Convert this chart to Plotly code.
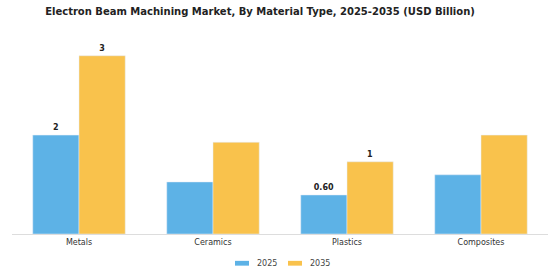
import plotly.graph_objects as go

categories = ["Metals", "Ceramics", "Plastics", "Composites"]
series_names = ["2025", "2035"]
values_2025 = [1.52, 0.80, 0.60, 0.91]
values_2035 = [2.74, 1.41, 1.11, 1.52]
labels_2025 = ["2", "", "0.60", ""]
labels_2035 = ["3", "", "1", ""]

blue = "#5DB2E6"
yellow = "#F9C24C"
colors = [blue, yellow]

fig = go.Figure()
for name, vals, labs, col in zip(series_names, [values_2025, values_2035],
                                 [labels_2025, labels_2035], colors):
    fig.add_trace(go.Bar(x=categories, y=vals, name=name, marker_color=col,
                         text=labs, textposition="outside",
                         textfont=dict(family="DejaVu Sans", size=8, color="#222222", weight="bold"),
                         cliponaxis=False, showlegend=False))

# custom legend (wide swatches)
legend_x = [235, 288]
for lx, name, col in zip(legend_x, series_names, colors):
    fig.add_shape(type="rect", xref="paper", yref="paper",
                  x0=(lx - 12) / 536, x1=(lx + 2 - 12) / 536 + 12 / 536,
                  y0=(234 - 267) / 196, y1=(234 - 262) / 196,
                  fillcolor=col, line=dict(width=0))
    fig.add_annotation(text=name, xref="paper", yref="paper",
                       x=(lx + 20 - 12) / 536, y=(234 - 264.5) / 196,
                       xanchor="left", yanchor="middle", showarrow=False,
                       font=dict(family="DejaVu Sans", size=8, color="#444444"))

fig.update_layout(
    width=560, height=280,
    margin=dict(l=12, r=12, t=46, b=46, autoexpand=False),
    paper_bgcolor="white", plot_bgcolor="white",
    barmode="group", bargap=0.31, bargroupgap=0,
    title=dict(text="<b>Electron Beam Machining Market, By Material Type, 2025-2035 (USD Billion)</b>",
               x=260 / 560, xanchor="center", y=1 - 11 / 280, yanchor="middle",
               font=dict(family="DejaVu Sans", size=10, color="#222222")),
    font=dict(family="DejaVu Sans", size=8, color="#444444"),
    showlegend=False,
)
fig.update_xaxes(showline=True, linecolor="#dddddd", linewidth=1, ticks="",
                 tickfont=dict(size=8, color="#333333"))
fig.update_yaxes(range=[0, 2.89], visible=False, showgrid=False)

fig.write_html("out.html")
